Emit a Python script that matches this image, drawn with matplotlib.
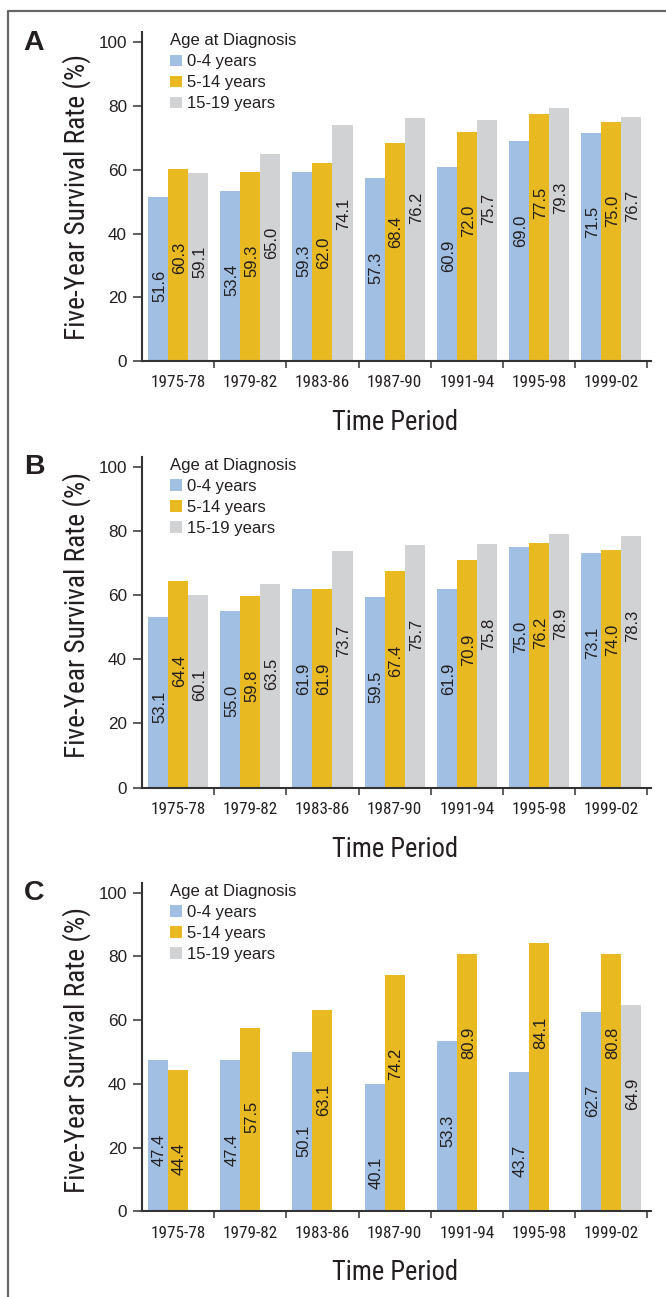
import os
import numpy as np
import matplotlib
matplotlib.use('Agg')
import matplotlib.pyplot as plt
from matplotlib import font_manager as fm
from matplotlib.font_manager import FontProperties
from matplotlib.lines import Line2D

# ---------------- data ----------------
periods = ['1975-78', '1979-82', '1983-86', '1987-90', '1991-94', '1995-98', '1999-02']
age_groups = ['0-4 years', '5-14 years', '15-19 years']
panel_letters = ['A', 'B', 'C']

a_age_0_4 = [51.6, 53.4, 59.3, 57.3, 60.9, 69.0, 71.5]
a_age_5_14 = [60.3, 59.3, 62.0, 68.4, 72.0, 77.5, 75.0]
a_age_15_19 = [59.1, 65.0, 74.1, 76.2, 75.7, 79.3, 76.7]

b_age_0_4 = [53.1, 55.0, 61.9, 59.5, 61.9, 75.0, 73.1]
b_age_5_14 = [64.4, 59.8, 61.9, 67.4, 70.9, 76.2, 74.0]
b_age_15_19 = [60.1, 63.5, 73.7, 75.7, 75.8, 78.9, 78.3]

c_age_0_4 = [47.4, 47.4, 50.1, 40.1, 53.3, 43.7, 62.7]
c_age_5_14 = [44.4, 57.5, 63.1, 74.2, 80.9, 84.1, 80.8]
c_age_15_19 = [np.nan, np.nan, np.nan, np.nan, np.nan, np.nan, 64.9]

panels = [
    [a_age_0_4, a_age_5_14, a_age_15_19],
    [b_age_0_4, b_age_5_14, b_age_15_19],
    [c_age_0_4, c_age_5_14, c_age_15_19],
]
y_ticks = [0, 20, 40, 60, 80, 100]

# ---------------- style ----------------
colors = ['#A0BFE3', '#E8B921', '#D1D2D4']
TXT = '#231F20'
AX = '#333333'

names = {f.name for f in fm.fontManager.ttflist}
REG = 'Liberation Sans' if 'Liberation Sans' in names else 'DejaVu Sans'


def find_condensed():
    prefs = ['liberationsansnarrow', 'arialnarrow', 'robotocondensed', 'roboto',
             'notosans', 'opensans', 'lato', 'inter', 'dejavusans', 'liberationsans']
    bad = ['bold', 'light', 'thin', 'black', 'medium', 'italic', 'oblique',
           'extra', 'ultra', 'mono', 'serif', 'cjk', 'display', 'heavy']
    best, best_key = None, None
    for f in fm.fontManager.ttflist:
        fn = os.path.basename(f.fname).lower()
        st = str(f.stretch).lower()
        if not ('condensed' in fn or 'narrow' in fn or 'condensed' in st or 'narrow' in st):
            continue
        if any(b in fn for b in bad):
            continue
        key_s = f.name.lower().replace(' ', '') + fn.replace('-', '').replace('_', '')
        rank = len(prefs)
        for i, p in enumerate(prefs):
            if p in key_s:
                rank = i
                break
        key = (rank, 1 if 'semi' in fn else 0, fn)
        if best_key is None or key < best_key:
            best, best_key = f, key
    return best


cond = find_condensed()
NARPROP = FontProperties(fname=cond.fname) if cond is not None else FontProperties(family=REG)

W, H = 666, 1297
fig = plt.figure(figsize=(W / 100, H / 100), dpi=100)
renderer = fig.canvas.get_renderer()


def fit_size(text, target_px, max_pt):
    pr = NARPROP.copy()
    pr.set_size(10)
    w, h, d = renderer.get_text_width_height_descent(text, pr, ismath=False)
    return min(max_pt, 10.0 * target_px / w)


ylab_size = fit_size('Five-Year Survival Rate (%)', 285, 20)
xlab_size = fit_size('Time Period', 125, 19.5)
xtick_size = fit_size('1991-94', 55, 13)


def nprop(size):
    pr = NARPROP.copy()
    pr.set_size(size)
    return pr


def fx(px):
    return px / W


def fy(py):
    return 1 - py / H


# frame (top + left line)
fig.add_artist(Line2D([fx(8), fx(8), fx(666)], [fy(1297), fy(11), fy(11)],
                      transform=fig.transFigure, color='#666666', lw=1.6))

left_px, right_px = 142.0, 650.7
tops = [32.0, 456.7, 882.7]
bottoms = [361.0, 787.6, 1211.3]
y100 = [42.3, 466.7, 892.7]
ylabel_c = [197.5, 614.5, 1050.2]
xlabel_base = [430.0, 856.6, 1280.0]
letter_base = [50.0, 474.0, 900.0]

unit = (647.3 - left_px) / 7.0
xmax = -0.5 + (right_px - left_px) / unit
bw = 0.278
offsets = [-bw, 0.0, bw]
x = np.arange(len(periods))

reg_prop = FontProperties(family=REG, size=12)

for p, series in enumerate(panels):
    top, bot = tops[p], bottoms[p]
    ax = fig.add_axes([fx(left_px), fy(bot), (right_px - left_px) / W, (bot - top) / H])
    ytop = 100.0 * (bot - top) / (bot - y100[p])
    ax.set_ylim(0, ytop)
    ax.set_xlim(-0.5, xmax)

    bars = []
    for j, vals in enumerate(series):
        b = ax.bar(x + offsets[j], vals, width=bw, color=colors[j], label=age_groups[j],
                   linewidth=0, zorder=2)
        bars.append(b)
        for xi, v in zip(x + offsets[j], vals):
            if np.isnan(v):
                continue
            ax.annotate(f'{v:.1f}', xy=(xi, v - 28), xytext=(4.3, 0),
                        textcoords='offset points', rotation=90, rotation_mode='anchor',
                        ha='center', va='baseline', fontsize=12, family=REG, color=TXT,
                        zorder=3)

    for s in ['top', 'right']:
        ax.spines[s].set_visible(False)
    for s in ['left', 'bottom']:
        ax.spines[s].set_color(AX)
        ax.spines[s].set_linewidth(1.5)

    ax.set_yticks(y_ticks)
    ax.set_yticklabels([str(t) for t in y_ticks], family=REG, fontsize=12.3, color=TXT)
    ax.tick_params(axis='y', direction='out', length=6.5, width=1.1, color=AX, pad=4.3)

    ax.set_xticks(np.arange(0.5, 7.0, 1.0))
    ax.set_xticklabels([''] * 7)
    ax.tick_params(axis='x', which='major', direction='out', length=5, width=1.1, color=AX)
    ax.set_xticks(x, minor=True)
    ax.set_xticklabels(periods, minor=True, fontproperties=nprop(xtick_size), color=TXT)
    ax.tick_params(axis='x', which='minor', length=0, pad=10.4)

    ax.set_ylabel('Five-Year Survival Rate (%)', fontproperties=nprop(ylab_size), color=TXT)
    ax.yaxis.set_label_coords((85 - left_px) / (right_px - left_px), (bot - ylabel_c[p]) / (bot - top))
    ax.yaxis.label.set_rotation_mode('anchor')
    ax.yaxis.label.set_va('baseline')
    ax.yaxis.label.set_ha('center')

    ax.set_xlabel('Time Period', fontproperties=nprop(xlab_size), color=TXT)
    ax.xaxis.set_label_coords((394.6 - left_px) / (right_px - left_px), (bot - xlabel_base[p]) / (bot - top))
    ax.xaxis.label.set_va('baseline')

    leg = ax.legend(handles=bars, labels=age_groups, title='Age at Diagnosis',
                    loc='upper left',
                    bbox_to_anchor=((170 - left_px) / (right_px - left_px), 1 + (top - (y100[p] - 9.0)) / (bot - top)),
                    frameon=False, borderpad=0, borderaxespad=0, handlelength=0.7,
                    handleheight=0.7, handletextpad=0.3, labelspacing=0.36,
                    alignment='left', prop=reg_prop, title_fontproperties=reg_prop,
                    labelcolor=TXT)
    leg.get_title().set_color(TXT)

    fig.text(fx(34), fy(letter_base[p]), panel_letters[p], ha='center', va='baseline',
             family=REG, fontweight='bold', fontsize=20.5, color=TXT)

fig.savefig('out.png', dpi=100)
